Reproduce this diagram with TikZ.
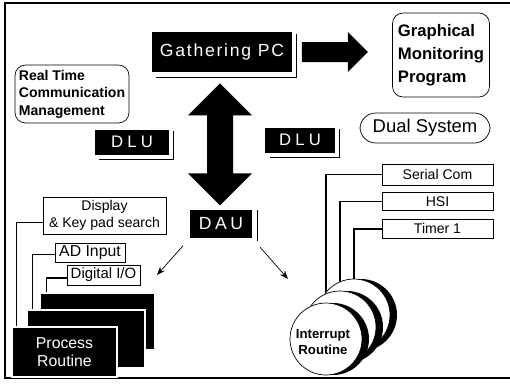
\documentclass[tikz,border=0pt]{standalone}
\usepackage{fontspec}
\setmainfont{Liberation Sans}
\usepackage{tikz}
\usetikzlibrary{positioning, calc, arrows.meta}

\tikzset{
    blackbox/.style={fill=black, text=white, inner sep=0pt, font=\fontsize{10}{12}\selectfont\addfontfeature{LetterSpace=20}},
    roundbox/.style={draw, rounded corners=6pt, inner sep=1.5pt, align=left, font=\bfseries\fontsize{9.5}{13}\selectfont},
    tagbox/.style={draw, inner sep=0pt, align=center, font=\fontsize{8}{9.5}\selectfont},
    slab/.style={fill=black, draw=white, line width=0.8pt, inner sep=0pt},
    shadowline/.style={line width=0.6pt},
    wire/.style={line width=0.8pt}
}

\begin{document}
\begin{tikzpicture}[x=0.02cm, y=-0.02cm]
        \useasboundingbox (0,0) rectangle (510,386);

        % frame
        \draw[line width=0.8pt] (510,3) -- (5,3) -- (5,378) -- (510,378);

        % top row
        \node[blackbox, font=\fontsize{10}{12}\selectfont\addfontfeature{LetterSpace=10}, minimum width=2.82cm, minimum height=0.8cm] (gpc) at (222,52) {Gathering PC};
        \node[roundbox, minimum width=1.94cm, minimum height=1.68cm] (gmp) at (441,55) {Graphical\\Monitoring\\Program};
        \node[roundbox, font=\bfseries\fontsize{8}{10}\selectfont, minimum width=2.28cm, minimum height=1.16cm] (rtc) at (72,94) {Real Time\\Communication\\Management};

        % block arrow to the monitoring program
        \fill ($(gpc.east)+(9,-10)$) -- ++(46,0) -- ++(0,-10) -- ++(20,20) -- ++(-20,20) -- ++(0,-10) -- ++(-46,0) -- cycle;

        % link units
        \node[blackbox, font=\fontsize{9.5}{12}\selectfont\addfontfeature{LetterSpace=25}, minimum width=1.5cm, minimum height=0.5cm] (dlul) at (132,142) {DLU};
        \node[blackbox, font=\fontsize{9.5}{12}\selectfont\addfontfeature{LetterSpace=25}, minimum width=1.4cm, minimum height=0.5cm] (dlur) at (300,140) {DLU};
        \node[blackbox, minimum width=1.24cm, minimum height=0.56cm] (dau) at (221,224) {DAU};
        \node[roundbox, font=\fontsize{10.5}{12}\selectfont, rounded corners=9pt, minimum width=2.6cm, minimum height=0.6cm] (dual) at (425,128) {Dual System};

        % offset outlines beside the black boxes
        \foreach \b in {gpc, dlul, dlur}
            \draw[shadowline] ([shift={(4,2)}]\b.north east) |- ([shift={(5,5)}]\b.south west);
        \draw[shadowline] ([shift={(5,0)}]dau.north east) -- ([shift={(5,3)}]dau.south east);

        % double arrow between Gathering PC and DAU
        \fill ($(gpc.south)+(-2,11)$) -- ++(32,32) -- ++(-19,0) -- ++(0,58) -- ++(19,0) -- ++(-32,32)
            -- ++(-32,-32) -- ++(19,0) -- ++(0,-58) -- ++(-19,0) -- cycle;

        % arrows out of DAU
        \coordinate (tol) at (157,275);
        \coordinate (tor) at (288,279);
        \draw[>=Stealth, ->, shorten <=0.2cm] (dau.south west) -- (tol);
        \draw[>=Stealth, ->, shorten <=0.24cm] (dau.south east) -- (tor);

        % process routine slabs
        \node[slab, minimum width=2.3cm, minimum height=1.14cm] (slab3) at (97.5,321.5) {};
        \node[slab, minimum width=2.36cm, minimum height=1.16cm] (slab2) at (86,339) {};
        \node[slab, text=white, align=center, font=\fontsize{9}{10}\selectfont, minimum width=2.1cm, minimum height=1.0cm] (slab1) at (64.5,352) {Process\\Routine};

        \node[tagbox, minimum width=2.46cm, minimum height=0.74cm] (disp) at (104.5,215.5) {Display\\\& Key pad search};
        \node[tagbox, font=\fontsize{9}{10}\selectfont, minimum width=1.4cm, minimum height=0.38cm] (adin) at (90,252.5) {AD Input};
        \node[tagbox, font=\fontsize{8.5}{10}\selectfont, minimum width=1.46cm, minimum height=0.4cm] (dio) at (103.5,275) {Digital I/O};

        \draw[wire] ($(disp.west)+(0,7)$) -| ($(slab1.north west)+(5,0)$);
        \draw[wire] ($(adin.west)+(0,2)$) -| ($(slab2.north west)+(6,0)$);
        \draw[wire] ($(dio.west)+(0,3)$) -| ($(slab3.north west)+(7,0)$);

        % interrupt side
        \node[tagbox, minimum width=2.22cm, minimum height=0.42cm] (ser) at (437.5,174.5) {Serial Com};
        \node[tagbox, minimum width=2.22cm, minimum height=0.36cm, below=0.14cm of ser] (hsi) {HSI};
        \node[tagbox, minimum width=2.22cm, minimum height=0.38cm, below=0.16cm of hsi] (tim) {Timer 1};

        \coordinate (c1) at (326,339);
        \coordinate (c2) at (340,327);
        \coordinate (c3) at (354,315);
        \draw[wire] (ser.west) -| (c1);
        \draw[wire] (hsi.west) -| (c2);
        \draw[wire] (tim.west) -| (c3);

        \foreach \c in {c3, c2, c1} {
            \fill ([xshift=0.14cm]\c) circle [radius=0.72cm];
            \draw[fill=white] (\c) circle [radius=0.72cm];
        }
        \node[align=center, font=\bfseries\fontsize{7.5}{9.5}\selectfont] (irq) at ($(c1)+(-3,3)$) {Interrupt\\Routine};

    \end{tikzpicture}
\end{document}
